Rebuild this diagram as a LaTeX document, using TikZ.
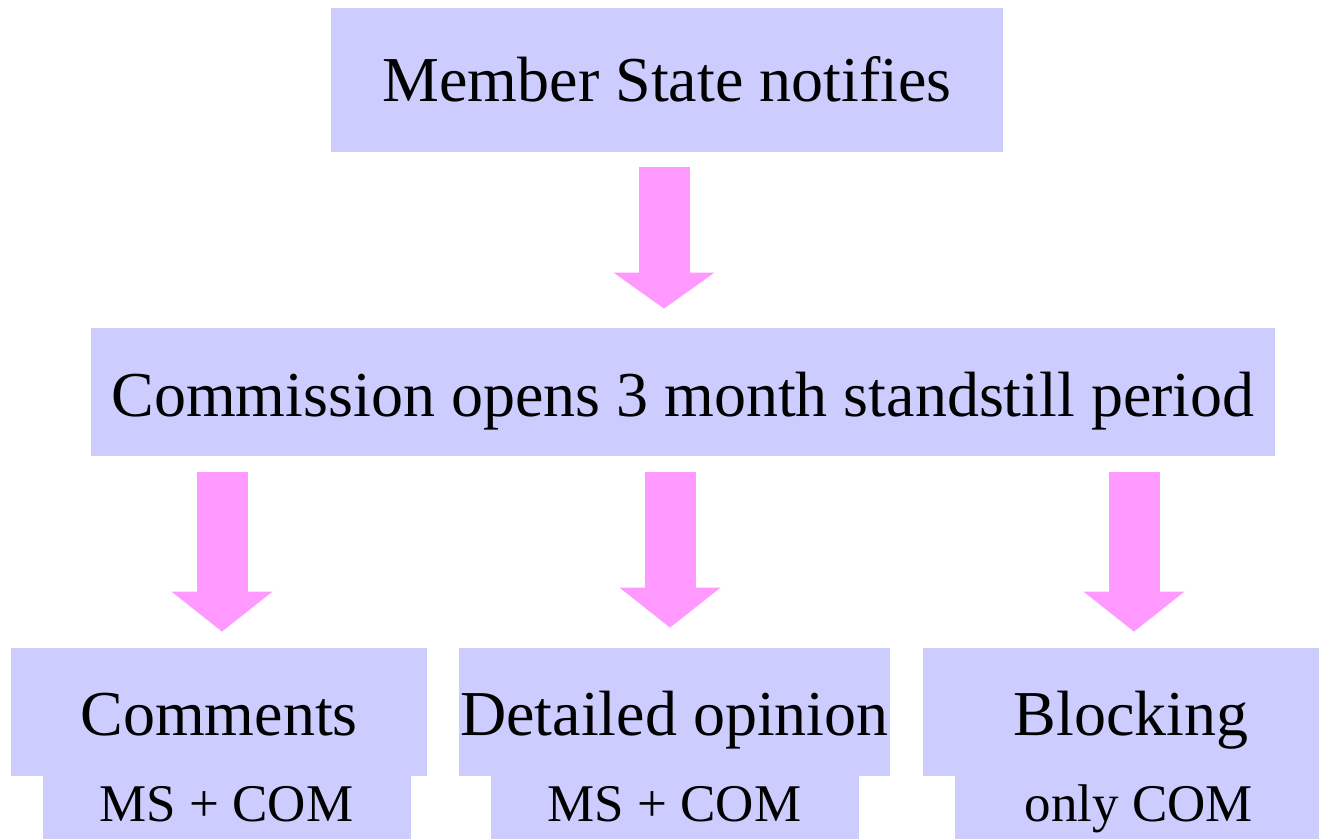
\documentclass[tikz,border=0pt]{standalone}
\usepackage{fontspec}
\setmainfont{Liberation Serif}
\usetikzlibrary{arrows.meta}
\definecolor{boxblue}{RGB}{204,204,255}
\definecolor{flowpink}{RGB}{255,153,255}

\begin{document}
\begin{tikzpicture}[x = 0.5pt, y = -0.5pt,
    box/.style = {fill = boxblue, inner sep = 0pt, anchor = base, font = \fontsize{32}{38}\selectfont},
    outcome/.style = {box, minimum width = 208pt, text height = 44pt, text depth = 20pt},
    who/.style = {box, minimum width = 184pt, text height = 22.5pt, text depth = 9pt, font = \fontsize{26.5}{32}\selectfont},
    flow/.style = {flowpink, line width = 25.5pt, -{Triangle[width = 50.5pt, length = 20pt, line width = 0pt]}, shorten <= 8pt, shorten >= 8pt}]
    \useasboundingbox (0,0) rectangle (1319,839);

    \node[box, minimum width = 336pt, text height = 47pt, text depth = 25pt] (notify) at (667,102) {Member State notifies};
    \node[box, minimum width = 592pt, text height = 44.5pt, text depth = 19.5pt] (open) at (683,417) {Commission opens 3 month standstill period};

    \node[outcome] (comments) at (219,736) {Comments};
    \node[outcome, minimum width = 215.5pt] (opinion) at (674.5,736) {Detailed opinion};
    \node[outcome] (blocking) at (1131,736) {Blocking};

    \node[who] (commentswho) at (226.5,821) {MS + COM};
    \node[who] (opinionwho) at (674.5,821) {MS + COM};
    \node[who] (blockingwho) at (1139,821) {only COM};

    \draw[flow, shorten <= 7.5pt, shorten >= 9.5pt, -{Triangle[width = 50.5pt, length = 18pt, line width = 0pt]}]
        ([xshift = -1.5pt]notify.south) -- ([xshift = -1.5pt]notify.south |- open.north);
    \draw[flow] ([xshift = 1.5pt]comments.north |- open.south) -- ([xshift = 1.5pt]comments.north);
    \draw[flow, shorten >= 10pt] ([xshift = -2.25pt]opinion.north |- open.south) -- ([xshift = -2.25pt]opinion.north);
    \draw[flow] ([xshift = 1.5pt]blocking.north |- open.south) -- ([xshift = 1.5pt]blocking.north);
\end{tikzpicture}
\end{document}
